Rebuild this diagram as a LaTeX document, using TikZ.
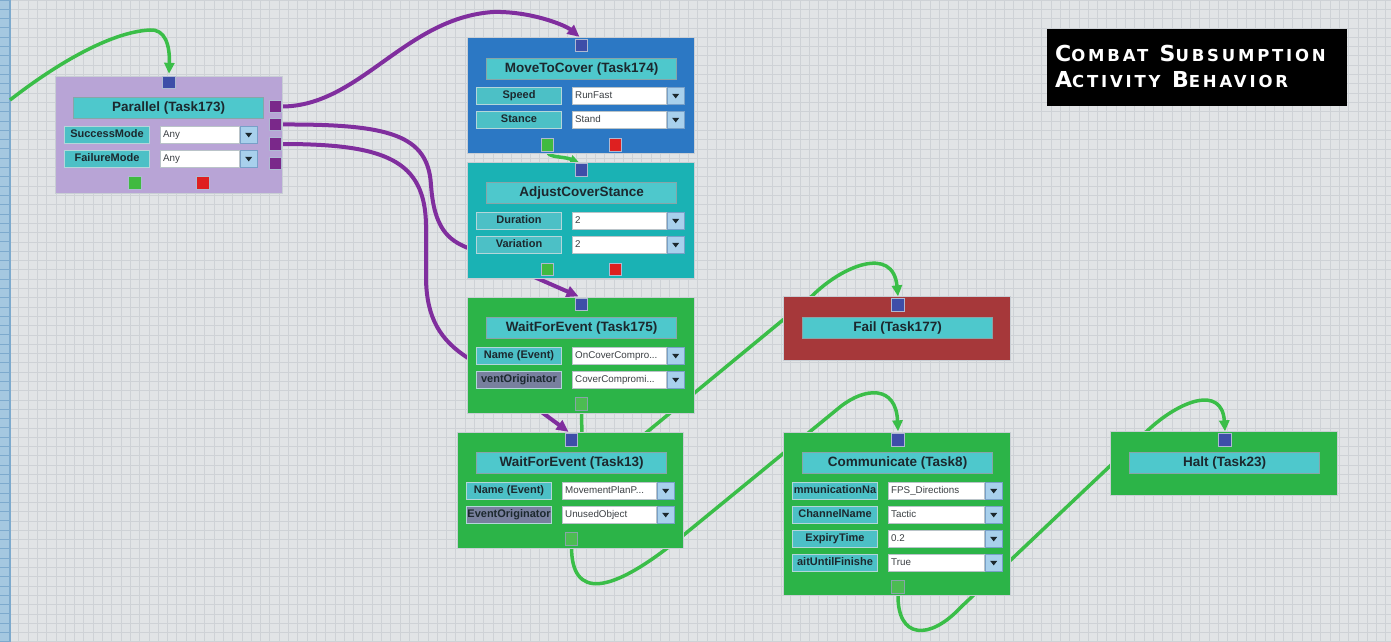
\documentclass[tikz,border=0pt]{standalone}
\usepackage{fontspec}
\setmainfont{Liberation Sans}
\newfontfamily\ttlfont[LetterSpace=17]{DejaVu Sans}
\usetikzlibrary{arrows.meta,calc}
\pgfdeclarelayer{bgl}
\pgfdeclarelayer{conn}
\pgfsetlayers{bgl,conn,main}
\definecolor{bgc}{RGB}{225,228,230}
\definecolor{gridc}{RGB}{206,210,214}
\definecolor{stripc}{RGB}{165,200,224}
\definecolor{stripl}{RGB}{125,170,205}
\definecolor{parc}{RGB}{184,164,214}
\definecolor{mtcc}{RGB}{44,120,196}
\definecolor{acsc}{RGB}{26,178,180}
\definecolor{wfc}{RGB}{44,180,72}
\definecolor{failc}{RGB}{166,56,58}
\definecolor{titlec}{RGB}{78,200,204}
\definecolor{titleedge}{RGB}{135,165,168}
\definecolor{lblc}{RGB}{76,192,198}
\definecolor{lbledge}{RGB}{180,214,218}
\definecolor{eoc}{RGB}{120,128,158}
\definecolor{ddc}{RGB}{168,208,236}
\definecolor{ddedge}{RGB}{120,160,200}
\definecolor{valedge}{RGB}{185,195,200}
\definecolor{boxedge}{RGB}{200,206,212}
\definecolor{portb}{RGB}{62,78,168}
\definecolor{portg}{RGB}{64,186,64}
\definecolor{portr}{RGB}{222,32,32}
\definecolor{portp}{RGB}{122,40,138}
\definecolor{porte}{RGB}{175,185,210}
\definecolor{hollowg}{RGB}{76,188,82}
\definecolor{lineg}{RGB}{58,190,72}
\definecolor{linep}{RGB}{128,46,158}
\definecolor{textc}{RGB}{28,40,46}
\definecolor{valtc}{RGB}{60,64,68}
\newcommand\bigc[1]{{\fontsize{22}{22}\selectfont #1}}
\newcommand\smc[1]{{\fontsize{16.5}{16.5}\selectfont #1}}
\newcommand\fld[8]{%
  \node[lbl,#4,anchor=north west] (#1l) at (#2,#3) {#5};
  \node[val,minimum width=#7,anchor=north west] (#1v) at (#6,#3) {};
  \node[valtxt,anchor=west] (#1t) at ([xshift=3pt]#1v.west) {#8};
  \node[dd,anchor=north west] (#1d) at (#1v.north east) {};
  \fill[textc] ([xshift=-3.5pt,yshift=2pt]#1d.center) -- ++(7,0) -- ([yshift=-2.5pt]#1d.center) -- cycle;
}
\begin{document}
\begin{tikzpicture}[x=1pt,y=-1pt,
  taskbox/.style={draw=boxedge,line width=1pt,inner sep=0,anchor=north west},
  titlebar/.style={fill=titlec,draw=titleedge,line width=1.2pt,inner sep=0,anchor=north west,
     minimum width=190,minimum height=21,text height=9.6pt,text depth=2.6pt,text=textc,
     font=\bfseries\fontsize{13.5}{15}\selectfont},
  lbl/.style={fill=lblc,draw=lbledge,line width=1pt,inner sep=0,minimum width=85,minimum height=17,
     text height=8pt,text depth=2.2pt,text=textc,font=\bfseries\fontsize{11}{12}\selectfont},
  val/.style={fill=white,draw=valedge,line width=0.8pt,inner sep=0,minimum height=17},
  valtxt/.style={inner sep=0,text height=7pt,text depth=1.8pt,text=valtc,font=\fontsize{9.8}{11}\selectfont},
  dd/.style={fill=ddc,draw=ddedge,line width=0.8pt,inner sep=0,minimum width=17,minimum height=17},
  port/.style={minimum size=12.5,inner sep=0,line width=0.8pt,draw=porte},
  gline/.style={draw=lineg,line width=3.5pt,-{Triangle[length=11pt,width=10pt]}},
  pline/.style={draw=linep,line width=4pt,-{Triangle[length=12pt,width=11pt]}},
]
\useasboundingbox (0,0) rectangle (1391,642);
\begin{pgfonlayer}{bgl}
  \fill[bgc] (0,0) rectangle (1391,642);
  \foreach \i in {1,...,150} \draw[gridc,line width=0.6pt] (\i*9.3,0) -- (\i*9.3,642);
  \foreach \j in {0,...,69} \draw[gridc,line width=0.6pt] (0,\j*9.3) -- (1391,\j*9.3);
  \fill[stripc] (0,0) rectangle (10,642);
  \foreach \j in {0,...,69} \draw[stripl,line width=0.8pt] (0,\j*9.3) -- (10,\j*9.3);
  \draw[stripl,line width=1.2pt] (10,0) -- (10,642);
\end{pgfonlayer}

% ---------- Parallel (Task173)
\node[taskbox,fill=parc,minimum width=227,minimum height=117] (b173) at (55,76) {};
\node[titlebar] (t173) at (73,97) {Parallel (Task173)};
\fld{f173a}{64}{126}{}{SuccessMode}{160}{79}{Any}
\fld{f173b}{64}{150}{}{FailureMode}{160}{79}{Any}
\node[port,fill=portb] (p173in) at (169,82.5) {};
\node[port,fill=portg] (p173g) at (135,183) {};
\node[port,fill=portr] (p173r) at (203,183) {};
\node[port,fill=portp] (p173o1) at (275.5,106.5) {};
\node[port,fill=portp] (p173o2) at (275.5,124.5) {};
\node[port,fill=portp] (p173o3) at (275.5,144) {};
\node[port,fill=portp] (p173o4) at (275.5,163.5) {};

% ---------- MoveToCover (Task174)
\node[taskbox,fill=mtcc,minimum width=227,minimum height=116] (b174) at (467,37) {};
\node[titlebar] (t174) at (486,58) {MoveToCover (Task174)};
\fld{f174a}{476}{87}{}{Speed}{572}{94}{RunFast}
\fld{f174b}{476}{111}{}{Stance}{572}{94}{Stand}
\node[port,fill=portb] (p174in) at (581.5,45.5) {};
\node[port,fill=portg] (p174g) at (547.5,145) {};
\node[port,fill=portr] (p174r) at (615.5,145) {};

% ---------- AdjustCoverStance
\node[taskbox,fill=acsc,minimum width=227,minimum height=116] (b176) at (467,162) {};
\node[titlebar] (t176) at (486,182) {AdjustCoverStance};
\fld{f176a}{476}{212}{}{Duration}{572}{94}{2}
\fld{f176b}{476}{236}{}{Variation}{572}{94}{2}
\node[port,fill=portb] (p176in) at (581.5,170) {};
\node[port,fill=portg] (p176g) at (547.5,269.5) {};
\node[port,fill=portr] (p176r) at (615.5,269.5) {};

% ---------- WaitForEvent (Task175)
\node[taskbox,fill=wfc,minimum width=227,minimum height=116] (b175) at (467,297) {};
\node[titlebar] (t175) at (486,317) {WaitForEvent (Task175)};
\fld{f175a}{476}{347}{}{Name (Event)}{572}{94}{OnCoverCompro...}
\fld{f175b}{476}{371}{fill=eoc}{ventOriginator}{572}{94}{CoverCompromi...}
\node[port,fill=portb] (p175in) at (581.5,304.5) {};
\node[port,fill=hollowg,draw=titleedge] (p175o) at (581.5,404) {};

% ---------- WaitForEvent (Task13)
\node[taskbox,fill=wfc,minimum width=226,minimum height=116] (b13) at (457,432) {};
\node[titlebar] (t13) at (476,452) {WaitForEvent (Task13)};
\fld{f13a}{466}{482}{}{Name (Event)}{562}{94}{MovementPlanP...}
\fld{f13b}{466}{506}{fill=eoc}{EventOriginator}{562}{94}{UnusedObject}
\node[port,fill=portb] (p13in) at (571.5,440) {};
\node[port,fill=hollowg,draw=titleedge] (p13o) at (571.5,539) {};

% ---------- Fail (Task177)
\node[taskbox,fill=failc,minimum width=227,minimum height=64] (b177) at (783,296) {};
\node[titlebar] (t177) at (802,317) {Fail (Task177)};
\node[port,fill=portb] (p177in) at (898,305) {};

% ---------- Communicate (Task8)
\node[taskbox,fill=wfc,minimum width=227,minimum height=163] (b8) at (783,432) {};
\node[titlebar] (t8) at (802,452) {Communicate (Task8)};
\fld{f8a}{792}{482}{}{mmunicationNa}{888}{96}{FPS\_Directions}
\fld{f8b}{792}{506}{}{ChannelName}{888}{96}{Tactic}
\fld{f8c}{792}{530}{}{ExpiryTime}{888}{96}{0.2}
\fld{f8d}{792}{554}{}{aitUntilFinishe}{888}{96}{True}
\node[port,fill=portb] (p8in) at (898,440) {};
\node[port,fill=hollowg,draw=titleedge] (p8o) at (898,587) {};

% ---------- Halt (Task23)
\node[taskbox,fill=wfc,minimum width=227,minimum height=64] (b23) at (1110,431) {};
\node[titlebar] (t23) at (1129,452) {Halt (Task23)};
\node[port,fill=portb] (p23in) at (1225,440) {};

% ---------- title block
\node[fill=black,inner sep=0,minimum width=300,minimum height=77,anchor=north west] (ttlbox) at (1047,29) {};
\node[anchor=base west,inner sep=0,text=white] (ttl1) at (1055,61)
  {\ttlfont\bfseries\bigc{C}\smc{OMBAT}\bigc{\ S}\smc{UBSUMPTION}};
\node[anchor=base west,inner sep=0,text=white] (ttl2) at (1055,88)
  {\ttlfont\bfseries\bigc{A}\smc{CTIVITY}\bigc{\ B}\smc{EHAVIOR}};

% ---------- connectors
\coordinate (start0) at (10,100);
\begin{pgfonlayer}{conn}
  \draw[gline] (start0) .. controls (55,65) and (110,32) .. (150,30)
     .. controls (165,29) and (170,45) .. ([yshift=2pt]p173in.north);
  \draw[pline] (p173o1.east) .. controls (360,106) and (405,18) .. (493,12)
     .. controls (530,11) and (565,25) .. ([xshift=-2pt,yshift=2pt]p174in.north);
  \draw[pline] (p173o2.east) .. controls (390,124) and (428,135) .. (431,185)
     .. controls (434,228) and (448,240) .. (468,248) -- ([xshift=-3pt,yshift=1.5pt]p175in.north);
  \draw[pline] (p173o3.east) .. controls (385,144) and (425,160) .. (426,225) -- (426,280)
     .. controls (427,318) and (440,340) .. (468,358) -- ([xshift=-3pt,yshift=1.5pt]p13in.north);
  \draw[gline,-{Triangle[length=8pt,width=8pt]}] (p174g.south) .. controls (549,158) and (562,156) .. ([xshift=-3pt,yshift=1.5pt]p176in.north);
  \draw[gline] (p175o.south) -- (582,440) .. controls (582,475) and (615,460) .. (647,432)
     -- (812,296) .. controls (842,266) and (893,245) .. ([yshift=2pt]p177in.north);
  \draw[gline] (p13o.south) .. controls (571,600) and (610,595) .. (680,538)
     -- (840,407) .. controls (865,387) and (896,385) .. ([yshift=2pt]p8in.north);
  \draw[gline] (p8o.south) .. controls (897,640) and (930,640) .. (960,608)
     -- (1147,431) .. controls (1180,400) and (1222,385) .. ([yshift=2pt]p23in.north);
\end{pgfonlayer}
\end{tikzpicture}
\end{document}
